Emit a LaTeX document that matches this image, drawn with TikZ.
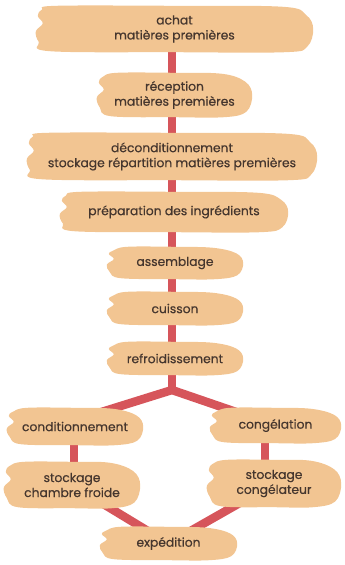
\documentclass[tikz,border=0pt]{standalone}
\usepackage{fontspec}
\setmainfont{Poppins}[FakeBold=0.5]
\usetikzlibrary{calc}
\pgfdeclarelayer{lines}
\pgfdeclarelayer{blobs}
\pgfsetlayers{lines,blobs,main}
\definecolor{blobfill}{HTML}{F2C592}
\definecolor{linec}{HTML}{D6555B}
\definecolor{txtc}{HTML}{45362E}
\newcommand\myblob[1]{%
\begin{pgfonlayer}{blobs}
\fill[blobfill] let \p1=(#1.south west),\p2=(#1.north east),\n1={\x2-\x1},\n2={\y2-\y1} in
 plot[smooth cycle,tension=0.6] coordinates {
 ({\x1+6pt},{\y2-4pt})
 ({\x1+20pt},{\y2})
 ({\x1+0.5*\n1},{\y2})
 ({\x2-30pt},{\y2-1pt})
 ({\x2-7pt},{\y2-0.2*\n2})
 ({\x2},{\y1+0.5*\n2})
 ({\x2-6pt},{\y1+0.12*\n2})
 ({\x2-28pt},{\y1})
 ({\x1+0.5*\n1},{\y1})
 ({\x1+14pt},{\y1+1pt})
 ({\x1+3pt},{\y1+0.22*\n2})
 ({\x1},{\y1+0.45*\n2})
 ({\x1+7pt},{\y1+0.62*\n2})
 ({\x1+2pt},{\y1+0.78*\n2})
 };
\end{pgfonlayer}}
\tikzset{
 box/.style 2 args={minimum width=#1pt, minimum height=#2pt, inner sep=0pt, align=center,
   text=txtc, font=\fontsize{12.3}{15}\selectfont},
 conn/.style={draw=linec, line width=8.5pt}
}
\begin{document}
\begin{tikzpicture}[x=1pt,y=-1pt]
\useasboundingbox (0,0) rectangle (345,565);
\node[box={277}{46}] (n1) at (174.5,29) {achat\\matières premières};
\node[box={155}{44}] (n2) at (174.5,95) {réception\\matières premières};
\node[box={290}{47}] (n3) at (172,156.5) {déconditionnement\\stockage répartition matières premières};
\node[box={228}{40}] (n4) at (174,212) {préparation des ingrédients};
\node[box={136}{32}] (n5) at (175,263) {assemblage};
\node[box={136}{33}] (n6) at (175,308.5) {cuisson};
\node[box={136}{33}] (n7) at (175,358.5) {refroidissement};
\node[box={136}{37}] (n8) at (75,426.5) {conditionnement};
\node[box={131}{35}] (n9) at (275.5,425.5) {congélation};
\node[box={136}{46}] (n10) at (72,485) {stockage\\chambre froide};
\node[box={134}{47}] (n11) at (274,483.5) {stockage\\congélateur};
\node[box={137}{33}] (n12) at (168.5,543.5) {expédition};
\foreach \nm in {n1,n2,n3,n4,n5,n6,n7,n8,n9,n10,n11,n12} {\myblob{\nm}}
\coordinate (sp) at (172,0);
\coordinate (j) at (172,390);
\begin{pgfonlayer}{lines}
\draw[conn] (n1.center -| sp) -- (n7.center -| sp) -- (j);
\draw[conn, line join=round] ($(n8.center)+(-20,0)$) -- (j) -- (n9.center);
\draw[conn] (n8.center -| 74,0) -- (n10.center -| 74,0);
\draw[conn] (n9.center -| 265,0) -- (n11.center -| 265,0);
\draw[conn] (n10.center) -- (n12.center) -- (n11.center);
\end{pgfonlayer}
\end{tikzpicture}
\end{document}
